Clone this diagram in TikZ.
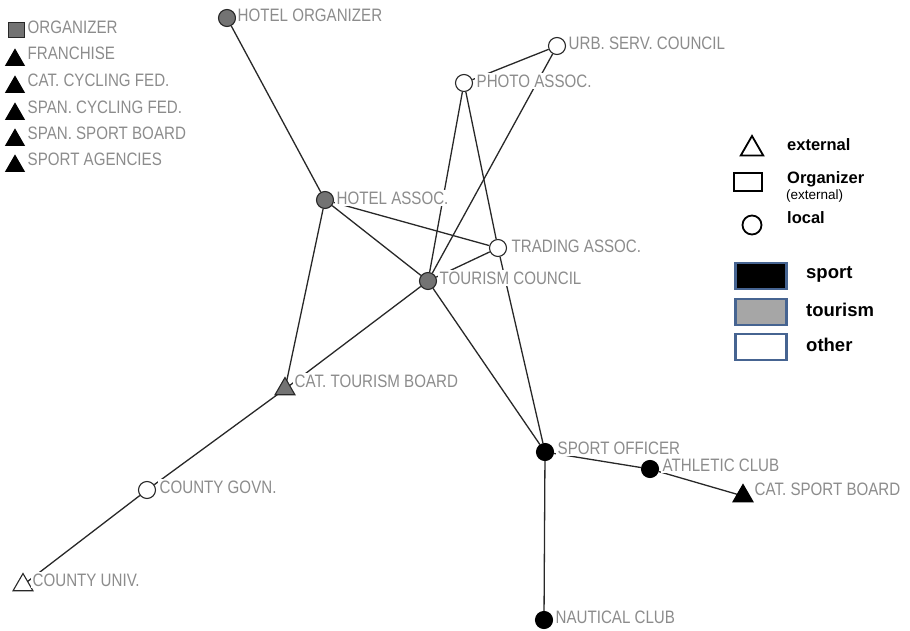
\documentclass[tikz,border=0pt]{standalone}
\usepackage{fontspec}
\setmainfont{Liberation Sans}
\newfontfamily\lblfont[FakeStretch=0.84]{Liberation Sans}
\usetikzlibrary{shapes.geometric,backgrounds}

\definecolor{lblgray}{RGB}{140,140,140}
\definecolor{edgecol}{RGB}{40,40,40}
\definecolor{tourfill}{RGB}{115,115,115}
\definecolor{boxblue}{RGB}{70,100,145}
\definecolor{boxgray}{RGB}{166,166,166}

\tikzset{
  lbl/.style={anchor=west, font=\lblfont\fontsize{18}{18}\selectfont, text=lblgray, fill=white, inner sep=1.5pt},
  dot/.style={circle, minimum size=17pt, inner sep=0pt, line width=1.1pt},
  tri/.style={regular polygon, regular polygon sides=3, minimum size=23pt, inner sep=0pt, line width=1.1pt},
  sportn/.style={fill=black, draw=black},
  tourn/.style={fill=tourfill, draw=edgecol},
  othern/.style={fill=white, draw=edgecol},
  edge/.style={draw=edgecol, line width=1.3pt},
  legtxt/.style={anchor=west, font=\bfseries\fontsize{16.5}{17}\selectfont, inner sep=0pt},
  legbox/.style={draw=boxblue, line width=2.5pt, minimum width=51pt, minimum height=26pt, inner sep=0pt},
  legbig/.style={anchor=west, font=\bfseries\fontsize{18.5}{19}\selectfont, inner sep=0pt}
}

\begin{document}
\begin{tikzpicture}[x=1pt, y=-1pt]
\useasboundingbox (0,0) rectangle (910,631);

% network nodes
\node[dot, tourn] (hotorg) at (227,18) {};
\node[dot, othern] (urb) at (557,46) {};
\node[dot, othern] (photo) at (464,83) {};
\node[dot, tourn] (hotass) at (325,200) {};
\node[dot, othern] (trade) at (498,248) {};
\node[dot, tourn] (toucou) at (428,281) {};
\node[tri, tourn] (cattour) at (285,389) {};
\node[dot, othern] (govn) at (147,490) {};
\node[tri, othern] (univ) at (23,585) {};
\node[dot, sportn] (spoff) at (545,452) {};
\node[dot, sportn] (athl) at (650,469) {};
\node[tri, sportn] (catsport) at (743,496) {};
\node[dot, sportn] (naut) at (544,620) {};

% connections
\begin{scope}[on background layer]
\draw[edge] (hotorg) -- (hotass);
\draw[edge] (hotass) -- (toucou);
\draw[edge] (hotass) -- (trade);
\draw[edge] (hotass) -- (cattour.center);
\draw[edge] (photo) -- (toucou);
\draw[edge] (photo) -- (trade);
\draw[edge] (urb) -- (photo);
\draw[edge] (urb) -- (toucou);
\draw[edge] (trade) -- (toucou);
\draw[edge] (trade) -- (spoff);
\draw[edge] (toucou) -- (spoff);
\draw[edge] (toucou) -- (cattour.center);
\draw[edge] (cattour.center) -- (govn);
\draw[edge] (govn) -- (univ.center);
\draw[edge] (spoff) -- (athl);
\draw[edge] (athl) -- (catsport.center);
\draw[edge] (spoff) -- (naut);
\end{scope}

% node labels
\node[lbl] (l-hotorg) at (236,15) {HOTEL ORGANIZER};
\node[lbl] (l-urb) at (567,43) {URB. SERV. COUNCIL};
\node[lbl] (l-photo) at (475,81) {PHOTO ASSOC.};
\node[lbl] (l-hotass) at (335,198) {HOTEL ASSOC.};
\node[lbl] (l-trade) at (510,246) {TRADING ASSOC.};
\node[lbl] (l-toucou) at (438,278) {TOURISM COUNCIL};
\node[lbl] (l-cattour) at (293,381) {CAT. TOURISM BOARD};
\node[lbl] (l-govn) at (158,487) {COUNTY GOVN.};
\node[lbl] (l-univ) at (31,580) {COUNTY UNIV.};
\node[lbl] (l-spoff) at (556,448) {SPORT OFFICER};
\node[lbl] (l-athl) at (661,465) {ATHLETIC CLUB};
\node[lbl] (l-catsport) at (753,489) {CAT. SPORT BOARD};
\node[lbl] (l-naut) at (554,617) {NAUTICAL CLUB};

% legend: external organisations
\node[draw=edgecol, fill=tourfill, line width=1pt, minimum width=16pt, minimum height=15pt, inner sep=0pt] (k-org) at (16,30) {};
\node[lbl] (kl-org) at (26,27) {ORGANIZER};
\foreach \yy/\txt [count=\i] in {53/FRANCHISE, 80/CAT. CYCLING FED., 107/SPAN. CYCLING FED., 133/SPAN. SPORT BOARD, 159/SPORT AGENCIES}{
  \node[tri, sportn, minimum size=21pt] (k-tri\i) at (15,\yy+7) {};
  \node[lbl, fill=none] (kl-tri\i) at (26,\yy) {\txt};
}

% legend: shapes
\node[tri, othern, draw=black, line width=1.8pt, minimum size=26pt] (k-ext) at (752,149) {};
\node[legtxt] (kt-ext) at (787,145) {external};
\node[draw=black, line width=1.8pt, minimum width=28pt, minimum height=18pt, inner sep=0pt] (k-orgx) at (748,182) {};
\node[legtxt] (kt-orgx) at (787,179) {Organizer};
\node[anchor=west, font=\fontsize{13.5}{13.5}\selectfont, inner sep=0pt] (kt-orgx2) at (786,196) {(external)};
\node[circle, draw=black, line width=1.8pt, minimum size=19pt, inner sep=0pt] (k-loc) at (752,225) {};
\node[legtxt] (kt-loc) at (787,218) {local};

% legend: sectors
\node[legbox, fill=black] (k-sport) at (761,276) {};
\node[legbig] (kt-sport) at (806,274) {sport};
\node[legbox, fill=boxgray] (k-tour) at (761,312) {};
\node[legbig] (kt-tour) at (806,310) {tourism};
\node[legbox, fill=white] (k-other) at (761,347) {};
\node[legbig] (kt-other) at (806,345) {other};
\end{tikzpicture}
\end{document}
